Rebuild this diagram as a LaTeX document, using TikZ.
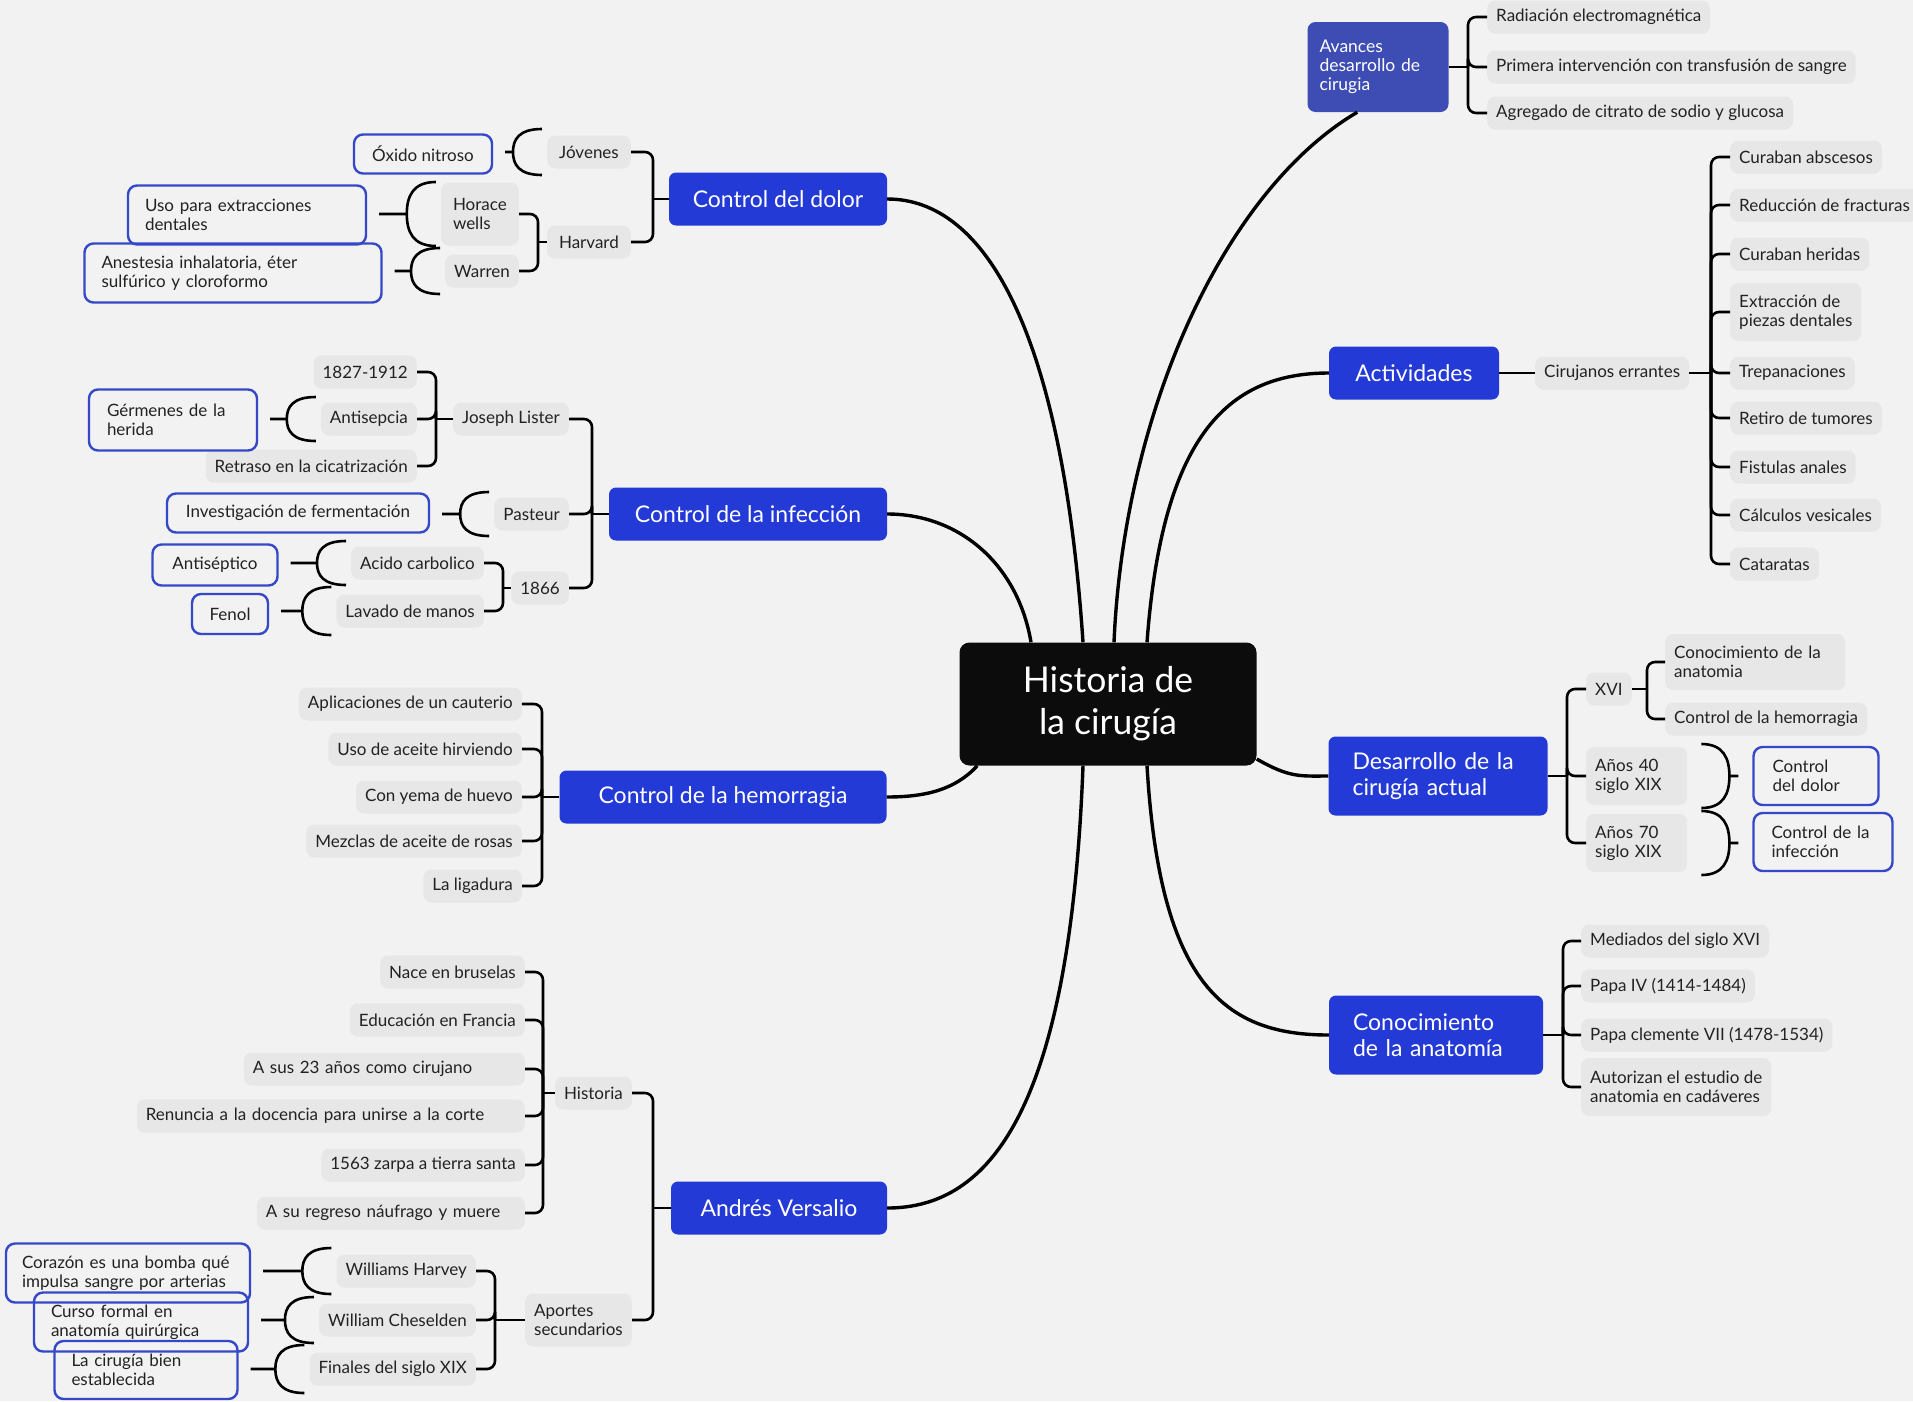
\documentclass[tikz,border=0pt]{standalone}
\usepackage{fontspec}
\setmainfont{Lato}
\usetikzlibrary{calc}

\definecolor{bgGray}{RGB}{242,242,242}
\definecolor{boxGray}{RGB}{231,231,231}
\definecolor{topicBlue}{RGB}{35,58,214}
\definecolor{avBlue}{RGB}{62,77,180}
\definecolor{noteBlue}{RGB}{52,72,200}
\definecolor{txtcol}{RGB}{34,34,34}
\definecolor{centerBlack}{RGB}{12,12,12}

\newcommand{\leaffont}{\fontsize{17}{19}\selectfont}
\newcommand{\topicfont}{\fontsize{23}{25.5}\selectfont}

\tikzset{
  topic/.style={fill=topicBlue, text=white, rounded corners=7, font=\topicfont, inner sep=0, align=left},
  leaf/.style={fill=boxGray, text=txtcol, rounded corners=8, font=\leaffont, inner xsep=9, inner ysep=4, minimum height=33, align=left},
  note/.style={draw=noteBlue, line width=2.4, text=txtcol, rounded corners=9, font=\leaffont, inner sep=0, align=left},
  branch/.style={draw=black, line width=2.6, rounded corners=8},
  trunk/.style={draw=black, line width=3.4},
  brc/.style={draw=black, line width=2.6},
}

% brace "(" between a note (left) and a leaf (right)
\newcommand{\braceL}[3]{%
  \draw[brc] let \p1=(#1.east), \p2=(#2.west) in
    (\x1+12pt,\y2) -- (\x2-34pt,\y2)
    (\x2-5pt,\y2+#3pt) .. controls (\x2-28pt,\y2+#3pt) and (\x2-34pt,\y2+0.55*#3pt) .. (\x2-34pt,\y2)
    .. controls (\x2-34pt,\y2-0.55*#3pt) and (\x2-28pt,\y2-#3pt) .. (\x2-5pt,\y2-#3pt);}
% brace ")" between a leaf (left) and a note (right)
\newcommand{\braceR}[3]{%
  \draw[brc] let \p1=(#1.east), \p2=(#2.west) in
    (\x2-14pt,\y1) -- (\x1+42pt,\y1)
    (\x1+14pt,\y1+#3pt) .. controls (\x1+36pt,\y1+#3pt) and (\x1+42pt,\y1+0.55*#3pt) .. (\x1+42pt,\y1)
    .. controls (\x1+42pt,\y1-0.55*#3pt) and (\x1+36pt,\y1-#3pt) .. (\x1+14pt,\y1-#3pt);}

\begin{document}
\begin{tikzpicture}[x=1pt, y=-1pt]

    \def\W{1913}
    \def\H{1401}

    \fill[bgGray] (0,0) rectangle (\W,\H);
    \useasboundingbox (0,0) rectangle (\W,\H);

    % central topic
    \node[fill=centerBlack, text=white, rounded corners=10, minimum width=297, minimum height=123, align=center,
          font=\fontsize{35.5}{42}\selectfont] (hist) at (1108,704) {Historia de\\la cirugía};

    % main topics
    \node[topic, minimum width=218, minimum height=53] (dolor) at (778,199) {Control del dolor};
    \node[topic, minimum width=278, minimum height=53] (infec) at (748,514) {Control de la infección};
    \node[topic, minimum width=327, minimum height=53] (hemo) at (723,797) {Control de la hemorragia};
    \node[topic, minimum width=216, minimum height=53] (vers) at (779,1208) {Andrés Versalio};
    \node[topic, fill=avBlue, text width=117, inner xsep=12, minimum height=90, rounded corners=8,
          font=\fontsize{17.5}{19}\selectfont] (avances) at (1378,67) {Avances\\desarrollo de\\cirugia};
    \node[topic, minimum width=170, minimum height=53] (activ) at (1414,373) {Actividades};
    \node[topic, text width=171, inner xsep=24, minimum height=79] (desarr) at (1438,776) {Desarrollo de la\\cirugía actual};
    \node[topic, text width=166, inner xsep=24, minimum height=79] (conoc) at (1436,1035) {Conocimiento\\de la anatomía};

    % trunks
    \draw[trunk] ([xshift=-25pt]hist.north) .. controls (1062,330) and (985,199) .. (dolor.east);
    \draw[trunk] ([xshift=-77pt]hist.north) .. controls (1018,565) and (960,514) .. (infec.east);
    \draw[trunk] ([xshift=18pt]hist.south west) .. controls (955,790) and (925,797) .. (hemo.east);
    \draw[trunk] ([xshift=-25pt]hist.south) .. controls (1070,1110) and (990,1208) .. (vers.east);
    \draw[trunk] ([xshift=6pt]hist.north) .. controls (1124,410) and (1225,190) .. ([xshift=50pt]avances.south west);
    \draw[trunk] ([xshift=39pt]hist.north) .. controls (1162,440) and (1225,373) .. (activ.west);
    \draw[trunk] ([yshift=-55pt]hist.east) .. controls (1290,778) and (1300,776) .. (desarr.west);
    \draw[trunk] ([xshift=39pt]hist.south) .. controls (1160,985) and (1225,1035) .. (conoc.west);

    % Control del dolor
    \coordinate (jDolor) at (653,199);
    \node[leaf, anchor=east, inner xsep=12] (jov) at (631,152) {Jóvenes};
    \node[leaf, anchor=east, inner xsep=12] (harv) at (631,242) {Harvard};
    \node[leaf, anchor=east, inner xsep=12, minimum height=63] (horace) at (519,214) {Horace\\wells};
    \node[leaf, anchor=east] (warren) at (519,271) {Warren};
    \draw[branch] (dolor.west) -- (jDolor);
    \draw[branch] (jDolor) |- (jov.east);
    \draw[branch] (jDolor) |- (harv.east);
    \coordinate (jHarv) at (538,242);
    \draw[branch] (harv.west) -- (jHarv);
    \draw[branch] (jHarv) |- (horace.east);
    \draw[branch] (jHarv) |- (warren.east);
    \node[note, minimum width=138, minimum height=39, align=center] (oxido) at (423,154) {Óxido nitroso};
    \node[note, text width=204, inner xsep=17, minimum height=59] (uso) at (247,215) {Uso para extracciones\\dentales};
    \node[note, text width=263, inner xsep=17, minimum height=59] (anest) at (233,273) {Anestesia inhalatoria, éter\\sulfúrico y cloroformo};
    \braceL{oxido}{jov}{23}
    \braceL{uso}{horace}{32}
    \braceL{anest}{warren}{23}

    % Control de la infeccion
    \coordinate (jInf) at (592,514);
    \node[leaf, anchor=east] (lister) at (569,419) {Joseph Lister};
    \node[leaf, anchor=east] (pasteur) at (569,514) {Pasteur};
    \node[leaf, anchor=east] (y1866) at (569,588) {1866};
    \draw[branch] (infec.west) -- (jInf);
    \draw[branch] (jInf) |- (lister.east);
    \draw[branch] (jInf) |- (pasteur.east);
    \draw[branch] (jInf) |- (y1866.east);
    \coordinate (jLister) at (436,419);
    \node[leaf, anchor=east] (vida) at (417,372) {1827-1912};
    \node[leaf, anchor=east] (antisep) at (417,419) {Antisepcia};
    \node[leaf, anchor=east] (retraso) at (417,466) {Retraso en la cicatrización};
    \draw[branch] (lister.west) -- (jLister);
    \draw[branch] (jLister) |- (vida.east);
    \draw[branch] (jLister) |- (antisep.east);
    \draw[branch] (jLister) |- (retraso.east);
    \coordinate (j1866) at (503,588);
    \node[leaf, anchor=east] (acido) at (484,563) {Acido carbolico};
    \node[leaf, anchor=east] (lavado) at (484,611) {Lavado de manos};
    \draw[branch] (y1866.west) -- (j1866);
    \draw[branch] (j1866) |- (acido.east);
    \draw[branch] (j1866) |- (lavado.east);
    \node[note, text width=132, inner xsep=18, minimum height=61] (germ) at (173,420) {Gérmenes de la\\herida};
    \node[note, minimum width=262, minimum height=39, align=center] (ferm) at (298,513) {Investigación de fermentación};
    \node[note, minimum width=125, minimum height=41, align=center] (antisept) at (215,565) {Antiséptico};
    \node[note, minimum width=76, minimum height=40, align=center] (fenol) at (230,614) {Fenol};
    \braceL{germ}{antisep}{22}
    \braceL{ferm}{pasteur}{22}
    \braceL{antisept}{acido}{22}
    \braceL{fenol}{lavado}{24}

    % Control de la hemorragia
    \coordinate (jHemo) at (542,797);
    \node[leaf, anchor=east] (cauterio) at (522,704) {Aplicaciones de un cauterio};
    \node[leaf, anchor=east] (aceite) at (522,749) {Uso de aceite hirviendo};
    \node[leaf, anchor=east] (yema) at (522,797) {Con yema de huevo};
    \node[leaf, anchor=east] (rosas) at (522,841) {Mezclas de aceite de rosas};
    \node[leaf, anchor=east] (ligadura) at (522,886) {La ligadura};
    \draw[branch] (hemo.west) -- (jHemo);
    \foreach \n in {cauterio,aceite,yema,rosas,ligadura}
        \draw[branch] (jHemo) |- (\n.east);

    % Andres Versalio
    \coordinate (jVers) at (653,1208);
    \node[leaf, anchor=east] (historia) at (632,1093) {Historia};
    \node[leaf, anchor=east, minimum height=53] (aportes) at (632,1320) {Aportes\\secundarios};
    \draw[branch] (vers.west) -- (jVers);
    \draw[branch] (jVers) |- (historia.east);
    \draw[branch] (jVers) |- (aportes.east);
    \coordinate (jHist) at (543,1093);
    \node[leaf, anchor=east] (nace) at (525,972) {Nace en bruselas};
    \node[leaf, anchor=east] (francia) at (525,1020) {Educación en Francia};
    \node[leaf, anchor=east, text width=263] (cirujano) at (525,1069) {A sus 23 años como cirujano};
    \node[leaf, anchor=east, text width=370] (renuncia) at (525,1116) {Renuncia a la docencia para unirse a la corte};
    \node[leaf, anchor=east] (zarpa) at (525,1165) {1563 zarpa a tierra santa};
    \node[leaf, anchor=east, text width=250] (muere) at (525,1213) {A su regreso náufrago y muere};
    \draw[branch] (historia.west) -- (jHist);
    \foreach \n in {nace,francia,cirujano,renuncia,zarpa,muere}
        \draw[branch] (jHist) |- (\n.east);
    \coordinate (jAport) at (495,1320);
    \node[leaf, anchor=east] (harvey) at (476,1271) {Williams Harvey};
    \node[leaf, anchor=east] (chesel) at (476,1320) {William Cheselden};
    \node[leaf, anchor=east] (finales) at (476,1369) {Finales del siglo XIX};
    \draw[branch] (aportes.west) -- (jAport);
    \foreach \n in {harvey,chesel,finales}
        \draw[branch] (jAport) |- (\n.east);
    \node[note, text width=212, inner xsep=16, minimum height=59] (corazon) at (128,1273) {Corazón es una bomba qué\\impulsa sangre por arterias};
    \node[note, text width=180, inner xsep=17, minimum height=59] (curso) at (141,1322) {Curso formal en\\anatomía quirúrgica};
    \node[note, text width=149, inner xsep=17, minimum height=58] (bien) at (146,1370) {La cirugía bien\\establecida};
    \braceL{corazon}{harvey}{23}
    \braceL{curso}{chesel}{23}
    \braceL{bien}{finales}{24}

    % Avances
    \coordinate (jAv) at (1468,67);
    \node[leaf, anchor=west] (radiacion) at (1487,17) {Radiación electromagnética};
    \node[leaf, anchor=west] (transf) at (1487,67) {Primera intervención con transfusión de sangre};
    \node[leaf, anchor=west] (citrato) at (1487,113) {Agregado de citrato de sodio y glucosa};
    \draw[branch] (avances.east) -- (jAv);
    \foreach \n in {radiacion,transf,citrato}
        \draw[branch] (jAv) |- (\n.west);

    % Actividades
    \node[leaf, anchor=west] (errantes) at (1535,373) {Cirujanos errantes};
    \draw[branch] (activ) -- (errantes);
    \coordinate (jAct) at (1711,373);
    \draw[branch] (errantes.east) -- (jAct);
    \node[leaf, anchor=west] (abscesos) at (1730,157) {Curaban abscesos};
    \node[leaf, anchor=west] (fracturas) at (1730,205) {Reducción de fracturas};
    \node[leaf, anchor=west] (heridas) at (1730,254) {Curaban heridas};
    \node[leaf, anchor=west, minimum height=58] (piezas) at (1730,312) {Extracción de\\piezas dentales};
    \node[leaf, anchor=west] (trepan) at (1730,373) {Trepanaciones};
    \node[leaf, anchor=west] (tumores) at (1730,418) {Retiro de tumores};
    \node[leaf, anchor=west] (fistulas) at (1730,467) {Fistulas anales};
    \node[leaf, anchor=west] (calculos) at (1730,515) {Cálculos vesicales};
    \node[leaf, anchor=west] (cataratas) at (1730,564) {Cataratas};
    \foreach \n in {abscesos,fracturas,heridas,piezas,trepan,tumores,fistulas,calculos,cataratas}
        \draw[branch] (jAct) |- (\n.west);

    % Desarrollo de la cirugia actual
    \coordinate (jDes) at (1567,776);
    \node[leaf, anchor=west] (xvi) at (1586,689) {XVI};
    \node[leaf, anchor=west, text width=83, minimum height=58] (a40) at (1586,776) {Años 40\\siglo XIX};
    \node[leaf, anchor=west, text width=83, minimum height=58] (a70) at (1586,843) {Años 70\\siglo XIX};
    \draw[branch] (desarr.east) -- (jDes);
    \foreach \n in {xvi,a40,a70}
        \draw[branch] (jDes) |- (\n.west);
    \coordinate (jXvi) at (1647,689);
    \node[leaf, anchor=west, text width=162, minimum height=56] (anat) at (1665,662) {Conocimiento de la\\anatomia};
    \node[leaf, anchor=west] (hemorr) at (1665,719) {Control de la hemorragia};
    \draw[branch] (xvi.east) -- (jXvi);
    \draw[branch] (jXvi) |- (anat.west);
    \draw[branch] (jXvi) |- (hemorr.west);
    \node[note, text width=87, inner xsep=19, minimum height=58] (ndolor) at (1816,776) {Control\\del dolor};
    \node[note, text width=103, inner xsep=18, minimum height=58] (ninfec) at (1823,842) {Control de la\\infección};
    \braceR{a40}{ndolor}{32}
    \braceR{a70}{ninfec}{32}

    % Conocimiento de la anatomia
    \coordinate (jCon) at (1563,1035);
    \node[leaf, anchor=west] (mediados) at (1581,941) {Mediados del siglo XVI};
    \node[leaf, anchor=west] (papa4) at (1581,986) {Papa IV (1414-1484)};
    \node[leaf, anchor=west] (clemente) at (1581,1035) {Papa clemente VII (1478-1534)};
    \node[leaf, anchor=west, minimum height=58] (cadaver) at (1581,1087) {Autorizan el estudio de\\anatomia en cadáveres};
    \draw[branch] (conoc.east) -- (jCon);
    \foreach \n in {mediados,papa4,clemente,cadaver}
        \draw[branch] (jCon) |- (\n.west);

\end{tikzpicture}
\end{document}
